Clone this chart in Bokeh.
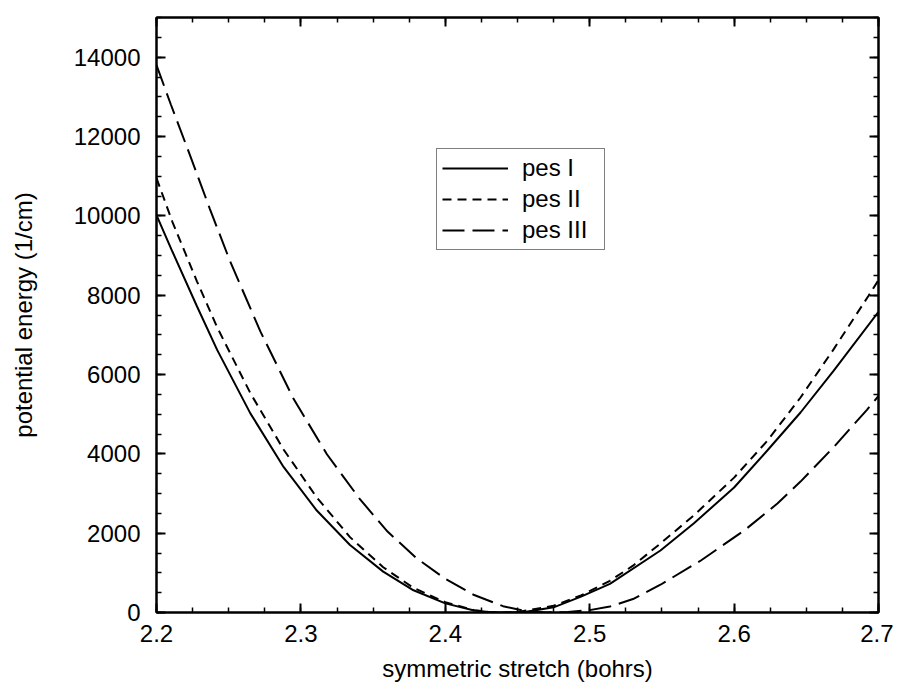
from bokeh.plotting import figure
from bokeh.models import Range1d, LinearAxis, FixedTicker, Legend, LegendItem
from bokeh.embed import file_html
from bokeh.resources import INLINE

# ---- data ----
x_pes1 = [2.200, 2.211, 2.228, 2.242, 2.265, 2.288, 2.311, 2.334, 2.357, 2.378,
          2.400, 2.420, 2.430, 2.440, 2.455, 2.475, 2.494, 2.514, 2.549, 2.572,
          2.600, 2.623, 2.646, 2.669, 2.700]
e_pes1 = [10020, 9100, 7720, 6620, 5020, 3670, 2570, 1700, 1030, 560,
          230, 50, 12, 0, 10, 130, 400, 720, 1563, 2243,
          3151, 4084, 5042, 6100, 7580]

x_pes2 = [2.200, 2.211, 2.228, 2.242, 2.265, 2.288, 2.311, 2.334, 2.357, 2.378,
          2.400, 2.420, 2.430, 2.440, 2.450, 2.475, 2.494, 2.514, 2.530, 2.549,
          2.572, 2.600, 2.623, 2.646, 2.669, 2.693, 2.700]
e_pes2 = [10950, 9850, 8350, 7190, 5530, 4110, 2900, 1900, 1140, 620,
          260, 60, 15, 0, 10, 170, 430, 800, 1180, 1740,
          2445, 3400, 4330, 5420, 6640, 7980, 8380]

x_pes3 = [2.200, 2.210, 2.224, 2.237, 2.251, 2.272, 2.295, 2.318, 2.341, 2.360,
          2.380, 2.400, 2.420, 2.440, 2.455, 2.470, 2.485, 2.500, 2.514, 2.530,
          2.549, 2.577, 2.607, 2.630, 2.646, 2.669, 2.692, 2.700]
e_pes3 = [13800, 12800, 11450, 10170, 8850, 7080, 5380, 3990, 2850, 2040,
          1370, 850, 440, 160, 40, 0, 15, 60, 150, 340,
          700, 1311, 2067, 2748, 3300, 4170, 5110, 5460]

series_names = ["pes I", "pes II", "pes III"]

x_major = [2.2, 2.3, 2.4, 2.5, 2.6, 2.7]
x_labels = ["2.2", "2.3", "2.4", "2.5", "2.6", "2.7"]
y_major = [0, 2000, 4000, 6000, 8000, 10000, 12000, 14000]
y_labels = ["0", "2000", "4000", "6000", "8000", "10000", "12000", "14000"]
x_minor = [round(2.2 + 0.025 * i, 4) for i in range(21)]
y_minor = [500 * i for i in range(31)]

FONT = "Liberation Sans"
FS = "24px"

p = figure(width=893, height=685, output_backend="svg", toolbar_location=None,
           x_range=Range1d(2.2, 2.7), y_range=Range1d(0, 15000),
           min_border_left=156, min_border_right=15, min_border_top=17,
           min_border_bottom=73)
p.grid.visible = False
p.outline_line_color = "black"
p.outline_line_width = 2
p.background_fill_color = None
p.border_fill_color = "white"


def style_axis(ax, ticks, minor, labels, show):
    ax.ticker = FixedTicker(ticks=ticks, minor_ticks=minor)
    ax.axis_line_color = "black"
    ax.axis_line_width = 2
    ax.major_tick_in = 9
    ax.major_tick_out = 0
    ax.minor_tick_in = 5
    ax.minor_tick_out = 0
    ax.major_tick_line_width = 2
    ax.minor_tick_line_width = 1.5
    ax.major_tick_line_color = "black"
    ax.minor_tick_line_color = "black"
    ax.level = "overlay"
    if show:
        ax.major_label_overrides = {t: l for t, l in zip(ticks, labels)}
        ax.major_label_text_font = FONT
        ax.major_label_text_font_size = FS
        ax.major_label_text_color = "black"
        ax.axis_label_text_font = FONT
        ax.axis_label_text_font_size = FS
        ax.axis_label_text_font_style = "normal"
        ax.axis_label_text_color = "black"
    else:
        ax.major_label_text_color = None
        ax.major_label_standoff = 0


xa = p.xaxis[0]
ya = p.yaxis[0]
style_axis(xa, x_major, x_minor, x_labels, True)
style_axis(ya, y_major, y_minor, y_labels, True)
xa.axis_label = "symmetric stretch (bohrs)"
ya.axis_label = "potential energy (1/cm)"
xa.major_label_standoff = 12
ya.major_label_standoff = 16
xa.axis_label_standoff = 10
ya.axis_label_standoff = 34

top = LinearAxis()
style_axis(top, x_major, x_minor, x_labels, False)
p.add_layout(top, "above")
right = LinearAxis()
style_axis(right, y_major, y_minor, y_labels, False)
p.add_layout(right, "right")

r1 = p.line(x_pes1, e_pes1, line_color="black", line_width=2)
r2 = p.line(x_pes2, e_pes2, line_color="black", line_width=2, line_dash="9 6")
r3 = p.line(x_pes3, e_pes3, line_color="black", line_width=2, line_dash="22 8")

legend = Legend(items=[LegendItem(label=series_names[0], renderers=[r1]),
                       LegendItem(label=series_names[1], renderers=[r2]),
                       LegendItem(label=series_names[2], renderers=[r3])],
                location=(280, 362))
legend.label_text_font = FONT
legend.label_text_font_size = FS
legend.label_text_color = "black"
legend.glyph_width = 66
legend.glyph_height = 22
legend.label_height = 22
legend.label_width = 77
legend.label_standoff = 14
legend.padding = 5
legend.spacing = 3
legend.margin = 0
legend.border_line_color = "black"
legend.border_line_width = 1.5
legend.background_fill_color = "white"
legend.background_fill_alpha = 1.0
p.add_layout(legend)

open("out.html", "w").write(file_html(p, INLINE))
